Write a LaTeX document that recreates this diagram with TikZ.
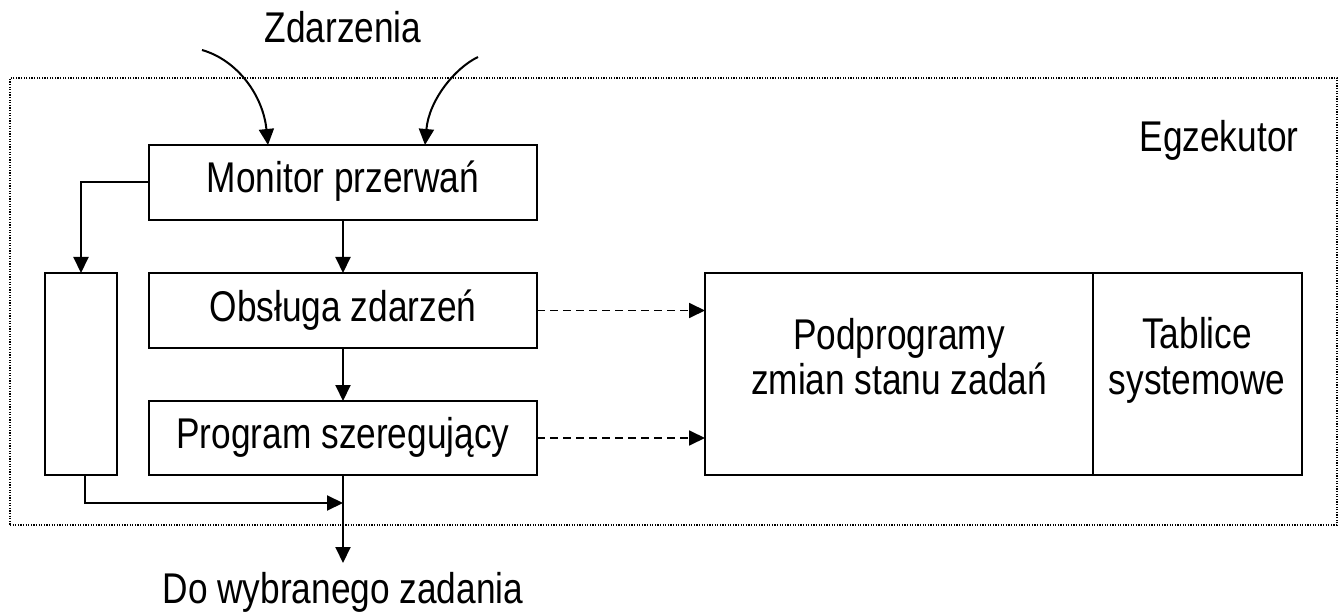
\documentclass[tikz,border=0pt]{standalone}
\usepackage{fontspec}
\setmainfont[FakeStretch=0.82]{Liberation Sans}
\usetikzlibrary{arrows.meta}

\begin{document}
\begin{tikzpicture}[x=1pt,y=-1pt,
    every node/.style={font=\fontsize{43}{45}\selectfont, inner sep=0pt, outer sep=0pt},
    blockbox/.style={draw, line width=2pt, minimum width=388pt, minimum height=75pt,
                     text height=30pt, text depth=9pt},
    plainbox/.style={draw, line width=2pt},
    frame/.style={draw, line width=1.2pt, dash pattern=on 1.2pt off 1.4pt},
    arr/.style={line width=2pt, -{Triangle[length=16pt,width=15pt]}},
    darr/.style={line width=1.8pt, dash pattern=on 8pt off 5pt, -{Triangle[length=16pt,width=15pt]}},
    lbl/.style={anchor=base}]

  % canvas
  \useasboundingbox (0,0) rectangle (1343,612);
  \fill[white] (0,0) rectangle (1343,612);

  % executive boundary
  \node[frame, minimum width=1327pt, minimum height=447pt] (egz) at (673.5,301.5) {};
  \node[lbl] (egzlbl) at (1219,152) {Egzekutor};

  % main chain of blocks
  \node[blockbox] (monitor) at (343,182.5) {Monitor przerwań};
  \node[blockbox] (obsluga) at (343,310.5) {Obsługa zdarzeń};
  \node[blockbox, minimum height=74pt] (program) at (343,438) {Program szeregujący};

  % side block
  \node[plainbox, minimum width=72pt, minimum height=202pt] (side) at (81,374) {};

  % state-change routines and system tables
  \node[plainbox, minimum width=388pt, minimum height=202pt] (podprog) at (899,374) {};
  \node[plainbox, minimum width=209pt, minimum height=202pt] (tablice) at (1197.5,374) {};
  \node[lbl] (pp1) at (899,349) {Podprogramy};
  \node[lbl] (pp2) at (899,394) {zmian stanu zadań};
  \node[lbl] (tb1) at (1197,348) {Tablice};
  \node[lbl] (tb2) at (1197,394) {systemowe};

  % incoming events
  \node[lbl] (zdarz) at (343,43) {Zdarzenia};
  \coordinate (ev1) at (202,50);
  \coordinate (ev2) at (478,57);
  \draw[arr] (ev1) .. controls (237,60) and (263,95) .. ([xshift=-75pt]monitor.north);
  \draw[arr] (ev2) .. controls (455,68) and (429,100) .. ([xshift=82pt]monitor.north);

  % flow between blocks
  \draw[arr] (monitor) -- (obsluga);
  \draw[arr] (obsluga) -- (program);
  \draw[arr] (monitor.west) -| (side.north);

  % merge and exit
  \coordinate (join) at (343,503);
  \coordinate (out) at (343,563);
  \draw[arr] ([xshift=4pt]side.south) |- (join);
  \draw[arr] (program) -- (out);
  \node[lbl] (dolbl) at (343,603) {Do wybranego zadania};

  % calls into state-change routines
  \draw[darr] (obsluga.east) -- (obsluga.east -| podprog.west);
  \draw[darr] (program.east) -- (program.east -| podprog.west);
\end{tikzpicture}
\end{document}
